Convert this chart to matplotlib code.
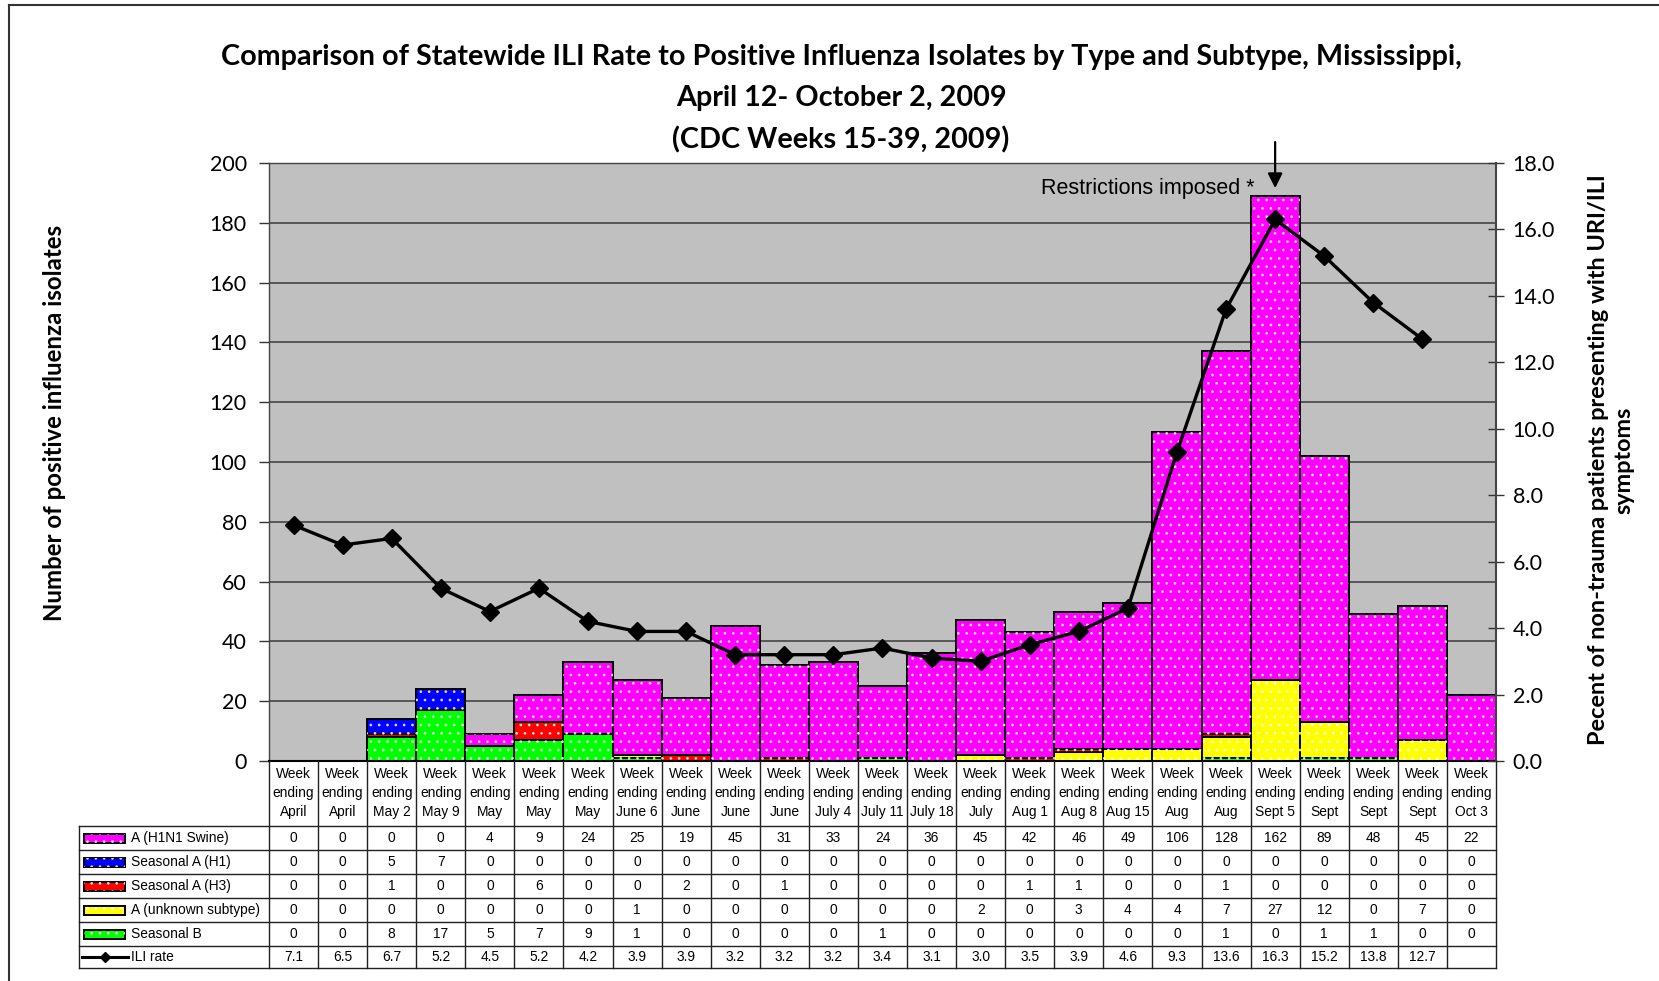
import matplotlib
matplotlib.use('Agg')
import matplotlib.pyplot as plt
import numpy as np
from matplotlib.transforms import blended_transform_factory
from matplotlib.patches import Rectangle
from matplotlib.lines import Line2D

# ---------------- data ----------------
week_line3 = ["April", "April", "May 2", "May 9", "May", "May", "May", "June 6", "June", "June",
              "June", "July 4", "July 11", "July 18", "July", "Aug 1", "Aug 8", "Aug 15", "Aug", "Aug",
              "Sept 5", "Sept", "Sept", "Sept", "Oct 3"]
h1n1 = [0, 0, 0, 0, 4, 9, 24, 25, 19, 45, 31, 33, 24, 36, 45, 42, 46, 49, 106, 128, 162, 89, 48, 45, 22]
seas_h1 = [0, 0, 5, 7, 0, 0, 0, 0, 0, 0, 0, 0, 0, 0, 0, 0, 0, 0, 0, 0, 0, 0, 0, 0, 0]
seas_h3 = [0, 0, 1, 0, 0, 6, 0, 0, 2, 0, 1, 0, 0, 0, 0, 1, 1, 0, 0, 1, 0, 0, 0, 0, 0]
unknown = [0, 0, 0, 0, 0, 0, 0, 1, 0, 0, 0, 0, 0, 0, 2, 0, 3, 4, 4, 7, 27, 12, 0, 7, 0]
seas_b = [0, 0, 8, 17, 5, 7, 9, 1, 0, 0, 0, 0, 1, 0, 0, 0, 0, 0, 0, 1, 0, 1, 1, 0, 0]
ili_rate = [7.1, 6.5, 6.7, 5.2, 4.5, 5.2, 4.2, 3.9, 3.9, 3.2, 3.2, 3.2, 3.4, 3.1, 3.0, 3.5, 3.9,
            4.6, 9.3, 13.6, 16.3, 15.2, 13.8, 12.7, None]

series_names = ["A (H1N1 Swine)", "Seasonal A (H1)", "Seasonal A (H3)", "A (unknown subtype)", "Seasonal B"]
series_vals = [h1n1, seas_h1, seas_h3, unknown, seas_b]
series_colors = ["#FF00FF", "#0000FF", "#FF0000", "#FFFF00", "#00FF00"]
stack_order = [4, 3, 2, 1, 0]   # bottom -> top

# ---------------- figure ----------------
W, H = 1659, 981
fig = plt.figure(figsize=(W / 100, H / 100), dpi=100)
plt.rcParams['hatch.linewidth'] = 0.8

def fx(px):
    return px / W

def fy(py):
    return 1 - py / H

TITLE_FONT = ['Lato', 'DejaVu Sans']
TABLE_FONT = ['Liberation Sans', 'DejaVu Sans']

# outer frame (top and left edges visible)
fig.add_artist(Line2D([fx(9), fx(9)], [fy(5), fy(990)], color='#333333', lw=1.5))
fig.add_artist(Line2D([fx(9), fx(1700)], [fy(5), fy(5)], color='#333333', lw=1.5))

L, R, T, B = 269, 1496, 163, 761
ax = fig.add_axes([fx(L), fy(B), fx(R) - fx(L), fy(T) - fy(B)])
ax.set_facecolor('#C0C0C0')
n = len(week_line3)
x = np.arange(n)
ax.set_xlim(-0.5, n - 0.5)
ax.set_ylim(0, 200)
ax.set_yticks(np.arange(0, 201, 20))
ax.set_xticks([])
ax.set_axisbelow(True)
ax.yaxis.grid(True, color='#3a3a3a', lw=1.1)
ax.tick_params(axis='y', direction='out', length=7, width=1, pad=9, labelsize=15.5, color='#333333')
for lab in ax.get_yticklabels():
    lab.set_fontfamily(TITLE_FONT)
for s in ['left', 'top']:
    ax.spines[s].set_color('#444444')
    ax.spines[s].set_linewidth(1.0)
ax.spines['bottom'].set_color('black')
ax.spines['bottom'].set_linewidth(1.5)
ax.spines['right'].set_visible(False)

bottom = np.zeros(n)
for idx in stack_order:
    vals = np.array(series_vals[idx], dtype=float)
    m = vals > 0
    ax.bar(x[m], vals[m], width=1.0, bottom=bottom[m], color=series_colors[idx],
           edgecolor='black', linewidth=1.4, zorder=3)
    ax.bar(x[m], vals[m], width=1.0, bottom=bottom[m], facecolor='none',
           edgecolor='#ffffffbb', hatch='..', linewidth=0, zorder=3.5)
    bottom += vals

ax2 = ax.twinx()
ax2.set_xlim(-0.5, n - 0.5)
ax2.set_ylim(0, 18)
ax2.set_yticks(np.arange(0, 18.1, 2))
ax2.set_yticklabels([f"{v:.1f}" for v in np.arange(0, 18.1, 2)])
ax2.tick_params(axis='y', direction='inout', length=12, width=1, pad=6, labelsize=15.5, color='#333333')
for lab in ax2.get_yticklabels():
    lab.set_fontfamily(TITLE_FONT)
for s in ['left', 'top', 'bottom']:
    ax2.spines[s].set_visible(False)
ax2.spines['right'].set_color('#444444')
ax2.spines['right'].set_linewidth(1.5)

ili_x = [i for i, v in enumerate(ili_rate) if v is not None]
ili_y = [v for v in ili_rate if v is not None]
ax2.plot(ili_x, ili_y, color='black', lw=2.4, marker='D', ms=9, zorder=5)

# annotation
ax.annotate('', xy=(20, 191.6), xytext=(20, 207.0), xycoords='data',
            arrowprops=dict(arrowstyle='-|>', color='black', lw=1.6, mutation_scale=22,
                            shrinkA=0, shrinkB=0), annotation_clip=False, zorder=6)
ax.text(19.58, 191.6, 'Restrictions imposed *', ha='right', va='center', fontsize=15.5,
        family=TABLE_FONT, zorder=6)

# ---------------- titles and labels ----------------
renderer = fig.canvas.get_renderer()

def fit(t, target_px):
    bb = t.get_window_extent(renderer=renderer)
    w = max(bb.width, bb.height)
    t.set_fontsize(t.get_fontsize() * target_px / w)

t1 = fig.text(fx(841), fy(57), "Comparison of Statewide ILI Rate to Positive Influenza Isolates by Type and Subtype, Mississippi,",
              ha='center', va='center', fontsize=18, weight='bold', family=TITLE_FONT)
fit(t1, 1240)
fs_title = t1.get_fontsize()
fig.text(fx(841), fy(98), "April 12- October 2, 2009", ha='center', va='center',
         fontsize=fs_title, weight='bold', family=TITLE_FONT)
fig.text(fx(841), fy(140), "(CDC Weeks 15-39, 2009)", ha='center', va='center',
         fontsize=fs_title, weight='bold', family=TITLE_FONT)

yl = fig.text(fx(55), fy(423), "Number of positive influenza isolates", rotation=90,
              ha='center', va='center', fontsize=14, weight='bold', family=TITLE_FONT)
fit(yl, 398)
yr = fig.text(fx(1611), fy(460), "Pecent of non-trauma patients presenting with URI/ILI\nsymptoms", rotation=90,
              ha='center', va='center', fontsize=14, weight='bold', family=TITLE_FONT,
              multialignment='center', linespacing=1.25)
fit(yr, 575)

# ---------------- data table ----------------
bt = blended_transform_factory(ax.transData, fig.transFigure)
col_px = (R - L) / n
leg_left = -0.5 - (L - 79) / col_px
row_edges = [826, 850, 874, 898, 922, 946, 968]
tfs = 9.9

def hline(x0, x1, ypx, lw=1.0):
    fig.add_artist(Line2D([x0, x1], [fy(ypx), fy(ypx)], transform=bt, color='#222222', lw=lw))

def vline(xd, y0, y1, lw=1.0):
    fig.add_artist(Line2D([xd, xd], [fy(y0), fy(y1)], transform=bt, color='#222222', lw=lw))

for i in range(n + 1):
    vline(i - 0.5, B, row_edges[-1])
vline(leg_left, row_edges[0], row_edges[-1])
for ypx in row_edges:
    hline(leg_left, n - 0.5, ypx)

for i in range(n):
    for ypx, s in zip([774, 793, 812], ["Week", "ending", week_line3[i]]):
        fig.text(i, fy(ypx), s, transform=bt, ha='center', va='center', fontsize=tfs, family=TABLE_FONT)

table_rows = series_vals + [ili_rate]
row_labels = series_names + ["ILI rate"]
for r, (lab, vals) in enumerate(zip(row_labels, table_rows)):
    yc = (row_edges[r] + row_edges[r + 1]) / 2
    for i, v in enumerate(vals):
        if v is None:
            continue
        s = f"{v:.1f}" if r == 5 else f"{v}"
        fig.text(i, fy(yc), s, transform=bt, ha='center', va='center', fontsize=tfs, family=TABLE_FONT)
    fig.text(fx(131), fy(yc), lab, ha='left', va='center', fontsize=tfs, family=TABLE_FONT)
    if r < 5:
        rect = Rectangle((fx(84), fy(yc + 4.5)), fx(41), 9 / H, transform=fig.transFigure,
                         facecolor=series_colors[r], edgecolor='black', lw=1.4)
        fig.add_artist(rect)
        rect2 = Rectangle((fx(84), fy(yc + 4.5)), fx(41), 9 / H, transform=fig.transFigure,
                          facecolor='none', edgecolor='#ffffffbb', hatch='..', lw=0)
        fig.add_artist(rect2)
    else:
        fig.add_artist(Line2D([fx(82), fx(128)], [fy(yc), fy(yc)], color='black', lw=2.2))
        fig.add_artist(Line2D([fx(105)], [fy(yc)], color='black', marker='D', ms=5))

fig.savefig('out.png', dpi=100)
